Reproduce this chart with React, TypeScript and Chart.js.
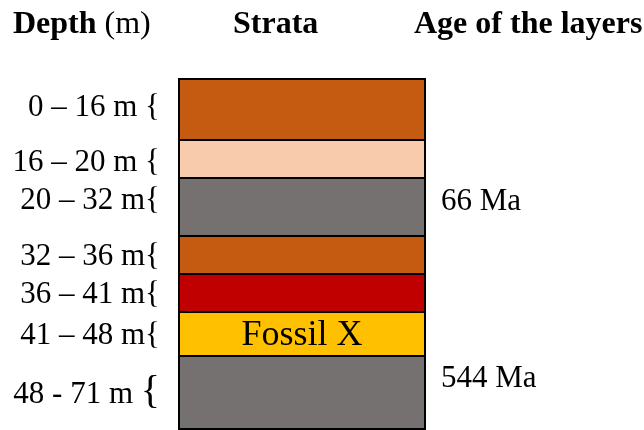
import { useEffect, useRef } from "react";
import { Chart, registerables } from "chart.js";

Chart.register(...registerables);

// Schematic strata column (top to bottom). Thickness is in drawing units.
const layerNames = ["0–16 m", "16–20 m", "20–32 m", "32–36 m", "36–41 m", "41–48 m", "48–71 m"];
const layerThickness = [61, 38, 58, 38, 38, 44, 75];
const layerColors = ["#C55A11", "#F8CBAD", "#767171", "#C55A11", "#C00000", "#FFC000", "#767171"];
const depthLabels = ["0 – 16 m {", "16 – 20 m {", "20 – 32 m{", "32 – 36 m{", "36 – 41 m{", "41 – 48 m{", "48 - 71 m "];
const ageLabels = ["", "", "66 Ma", "", "", "", "544 Ma"];
const innerLabels = ["", "", "", "", "", "Fossil X", ""];
const headerTitles = ["Depth", " (m)", "Strata", "Age of the layers"];

const SERIF = '"Liberation Serif", "Times New Roman", serif';

const textPlugin = {
  id: "strataText",
  afterDraw(chart: any) {
    const ctx = chart.ctx as CanvasRenderingContext2D;
    const y = chart.scales.y;
    const area = chart.chartArea;
    const boxCenterX = (area.left + area.right) / 2;
    const depthOffsets = [-3, 2, -8, 0, 0, 0, 0];
    const ageOffsets = [0, 0, -7, 0, 0, 0, -16];
    ctx.save();
    ctx.fillStyle = "#000";
    ctx.textBaseline = "alphabetic";

    // headers
    ctx.textAlign = "left";
    ctx.font = `bold 32px ${SERIF}`;
    ctx.fillText(headerTitles[0], 13, 33);
    const w = ctx.measureText(headerTitles[0]).width;
    ctx.font = `32px ${SERIF}`;
    ctx.fillText(headerTitles[1], 13 + w, 33);
    ctx.font = `bold 32px ${SERIF}`;
    ctx.fillText(headerTitles[2], 233, 33);
    ctx.fillText(headerTitles[3], 414, 33);

    let cum = 0;
    layerThickness.forEach((t, i) => {
      const mid = y.getPixelForValue(cum + t / 2);
      cum += t;
      const rightX = area.left - 18;
      // depth label
      ctx.textAlign = "right";
      if (i === layerThickness.length - 1) {
        ctx.font = `40px ${SERIF}`;
        ctx.fillText("{", rightX, mid + 10);
        const bw = ctx.measureText("{").width;
        ctx.font = `31px ${SERIF}`;
        ctx.fillText(depthLabels[i], rightX - bw, mid + 10.5 + depthOffsets[i]);
      } else {
        ctx.font = `31px ${SERIF}`;
        ctx.fillText(depthLabels[i], rightX, mid + 10.5 + depthOffsets[i]);
      }
      // age label
      if (ageLabels[i]) {
        ctx.textAlign = "left";
        ctx.font = `31px ${SERIF}`;
        ctx.fillText(ageLabels[i], area.right + 15, mid + 10.5 + ageOffsets[i]);
      }
      // inner label
      if (innerLabels[i]) {
        ctx.textAlign = "center";
        ctx.font = `36px ${SERIF}`;
        ctx.fillText(innerLabels[i], boxCenterX, mid + 12);
      }
    });
    ctx.restore();
  },
};

export default function App() {
  const canvasRef = useRef<HTMLCanvasElement | null>(null);

  useEffect(() => {
    if (!canvasRef.current) return;
    const total = layerThickness.reduce((a, b) => a + b, 0);
    const last = layerThickness.length - 1;
    const chart = new Chart(canvasRef.current, {
      type: "bar",
      data: {
        labels: ["Strata"],
        datasets: layerThickness.map((t, i) => ({
          label: layerNames[i],
          data: [t],
          backgroundColor: layerColors[i],
          borderColor: "#000000",
          borderWidth: { top: 2, left: 2, right: 2, bottom: i === last ? 2 : 0 },
          borderSkipped: false,
          barPercentage: 1,
          categoryPercentage: 1,
          inflateAmount: 0,
        })),
      },
      options: {
        animation: false,
        responsive: false,
        devicePixelRatio: 1,
        layout: { padding: { left: 178, right: 218, top: 78, bottom: 0 } },
        plugins: {
          legend: { display: false },
          tooltip: { enabled: false },
          title: { display: false },
        },
        scales: {
          x: { display: false, stacked: true },
          y: { display: false, stacked: true, reverse: true, min: 0, max: total },
        },
      },
      plugins: [textPlugin],
    } as any);
    return () => chart.destroy();
  }, []);

  return (
    <div style={{ position: "fixed", left: 0, top: 0, width: 644, height: 430, background: "#fff" }}>
      <canvas ref={canvasRef} width={644} height={430} style={{ display: "block" }} />
    </div>
  );
}
